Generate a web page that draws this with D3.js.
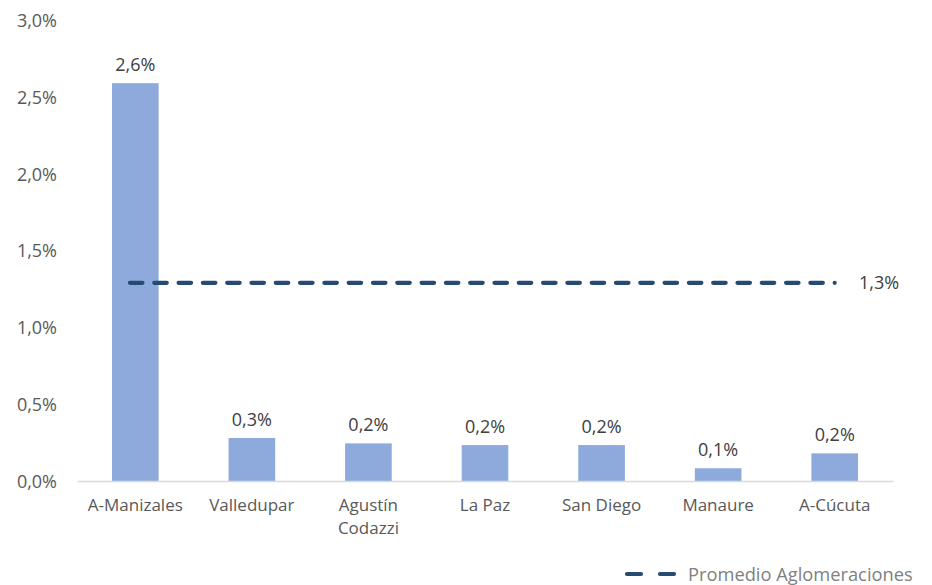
<!DOCTYPE html>
<html>
<head>
<meta charset="utf-8">
<script src="https://cdn.jsdelivr.net/npm/d3@7"></script>
<style>
  html, body { margin: 0; padding: 0; background: #fff; }
  svg { display: block; font-family: "Open Sans", "Noto Sans", sans-serif; }
</style>
</head>
<body>
<svg id="chart" width="932" height="585"></svg>
<script>
// Categories and their shares
const categories = ["A-Manizales", "Valledupar", "Agustín Codazzi", "La Paz", "San Diego", "Manaure", "A-Cúcuta"];
const values = [0.0259, 0.0028, 0.00245, 0.00234, 0.00234, 0.00083, 0.0018];
// Average across agglomerations (dashed reference line)
const averageValue = 0.0129;
const averageLabel = "Promedio Aglomeraciones";
const yTicks = [0, 0.005, 0.01, 0.015, 0.02, 0.025, 0.03];

const locale = d3.formatLocale({ decimal: ",", thousands: ".", grouping: [3], currency: ["$", ""] });
const fmt = locale.format(".1%");

const svg = d3.select("#chart");

const x = d3.scaleBand()
  .domain(categories)
  .range([77, 893])
  .paddingInner(0.6)
  .paddingOuter(0.3);

const y = d3.scaleLinear()
  .domain([0, 0.03])
  .range([481, 20.2]);

// Y axis labels (no axis line, no gridlines)
const yAxis = d3.axisLeft(y).tickValues(yTicks).tickFormat(fmt).tickSize(0).tickPadding(0);
const gy = svg.append("g").attr("transform", "translate(57,0)").call(yAxis);
gy.select(".domain").remove();
gy.selectAll("text")
  .attr("fill", "#595959")
  .style("font-size", "18px")
  .style("font-family", "'Open Sans', sans-serif")
  .attr("dy", "0.35em");

// Bars
svg.append("g").selectAll("rect")
  .data(categories)
  .join("rect")
  .attr("x", d => x(d))
  .attr("width", x.bandwidth())
  .attr("y", (d, i) => y(values[i]))
  .attr("height", (d, i) => y(0) - y(values[i]))
  .attr("fill", "#8eaadc");

// Baseline
const gx = svg.append("g").attr("transform", `translate(0,${y(0)})`)
  .call(d3.axisBottom(x).tickSize(0).tickPadding(0));
gx.select(".domain").attr("stroke", "#d9d9d9").attr("stroke-width", 1.5);
gx.selectAll(".tick text").remove();

// Category labels; the long two-word name wraps onto two lines
svg.append("g").selectAll("text")
  .data(categories)
  .join("text")
  .attr("text-anchor", "middle")
  .attr("fill", "#595959")
  .style("font-size", "17px")
  .each(function (d) {
    const t = d3.select(this);
    const cx = x(d) + x.bandwidth() / 2;
    const lines = d === "Agustín Codazzi" ? d.split(" ") : [d];
    lines.forEach((ln, k) => {
      t.append("tspan").attr("x", cx).attr("y", 511 + k * 23).text(ln);
    });
  });

// Value labels
svg.append("g").selectAll("text")
  .data(categories)
  .join("text")
  .attr("text-anchor", "middle")
  .attr("fill", "#404040")
  .style("font-size", "18px")
  .attr("x", d => x(d) + x.bandwidth() / 2)
  .attr("y", (d, i) => y(values[i]) - 12)
  .text((d, i) => fmt(values[i]));

// Average dashed line
const xStart = x(categories[0]) + 18;
const xEnd = x(categories[categories.length - 1]) + x.bandwidth() / 2;
svg.append("line")
  .attr("x1", xStart).attr("x2", xEnd)
  .attr("y1", y(averageValue)).attr("y2", y(averageValue))
  .attr("stroke", "#264a72")
  .attr("stroke-width", 4.2)
  .attr("stroke-linecap", "round")
  .attr("stroke-dasharray", "12.5,11.8");

svg.append("text")
  .attr("x", 859)
  .attr("y", y(averageValue))
  .attr("dy", "0.35em")
  .attr("fill", "#404040")
  .style("font-size", "18px")
  .text(fmt(averageValue));

// Legend
const lg = svg.append("g");
lg.append("line")
  .attr("x1", 627).attr("x2", 675)
  .attr("y1", 574).attr("y2", 574)
  .attr("stroke", "#264a72")
  .attr("stroke-width", 4.2)
  .attr("stroke-linecap", "round")
  .attr("stroke-dasharray", "14,19");
lg.append("text")
  .attr("x", 688)
  .attr("y", 581)
  .attr("fill", "#808080")
  .style("font-size", "18.3px")
  .text(averageLabel);
</script>
</body>
</html>
